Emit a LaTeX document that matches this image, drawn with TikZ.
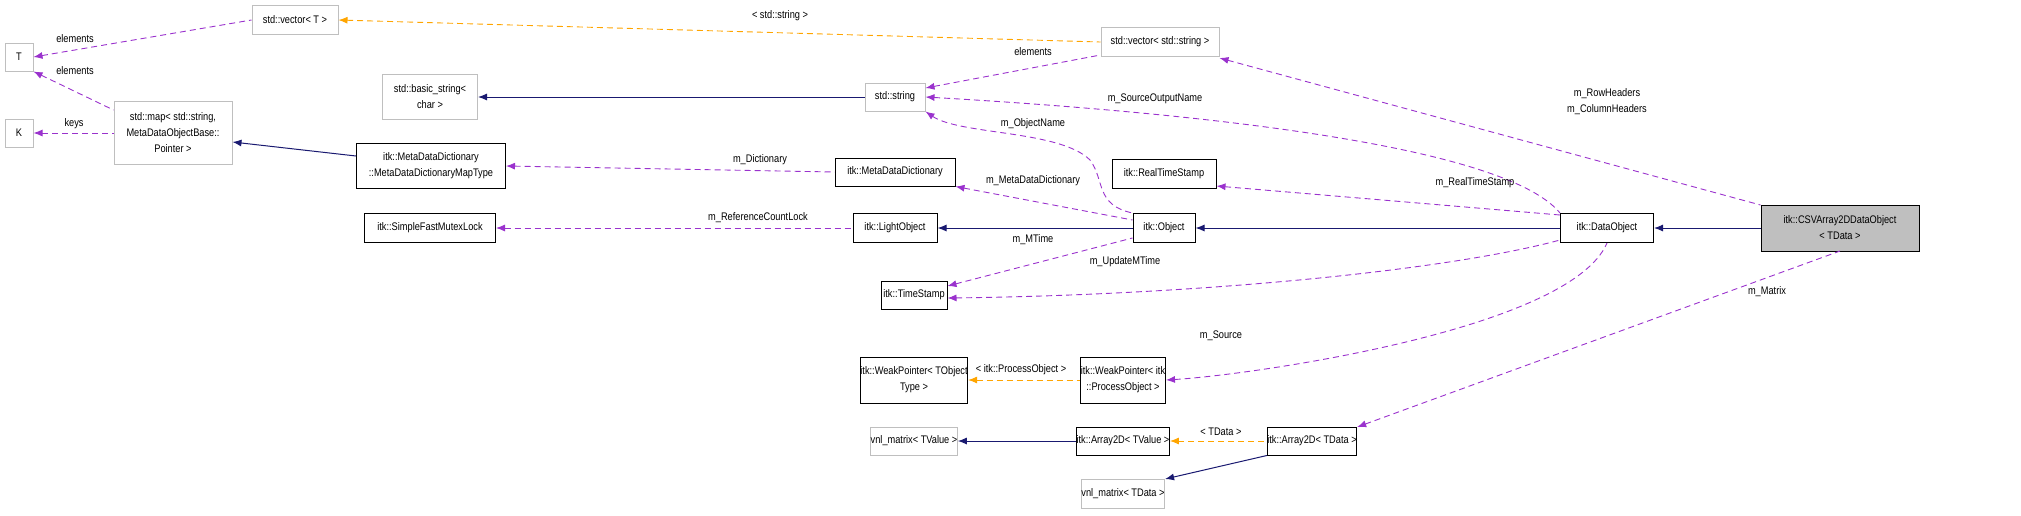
\documentclass[tikz,border=0pt]{standalone}
\usepackage{fontspec}
\setmainfont{Liberation Sans}[FakeStretch=0.84]
\usetikzlibrary{arrows.meta}
\definecolor{pur}{HTML}{9A32CD}
\definecolor{org}{HTML}{FFA500}
\definecolor{nav}{HTML}{191970}
\definecolor{gry}{HTML}{BFBFBF}
\begin{document}
\begin{tikzpicture}[x=1pt,y=-1pt,font=\fontsize{11}{16}\selectfont,
 box/.style={draw=black,line width=1pt,inner sep=0pt,align=center,fill=white},
 ext/.style={draw=gry,line width=1pt,inner sep=0pt,align=center,fill=white},
 mem/.style={draw=pur,dashed,line width=0.9pt,dash pattern=on 6pt off 4pt,{Latex[length=9pt,width=7pt]}-},
 tpl/.style={draw=org,dashed,line width=0.9pt,dash pattern=on 6pt off 4pt,{Latex[length=9pt,width=7pt]}-},
 inh/.style={draw=nav,line width=1pt,{Latex[length=9pt,width=7pt]}-},
 lab/.style={inner sep=1pt,align=center}]
\useasboundingbox (0,0) rectangle (2021,515);
\node[ext,minimum width=28,minimum height=28] (T) at (19,57) {T};
\node[ext,minimum width=28,minimum height=28] (K) at (19,133) {K};
\node[ext,minimum width=86,minimum height=29] (vecT) at (295,20) {std::vector< T >};
\node[ext,minimum width=118,minimum height=63] (map) at (173,133) {std::map< std::string,\\ MetaDataObjectBase::\\Pointer >};
\node[ext,minimum width=95,minimum height=45] (bstr) at (430,97) {std::basic\_string<\\char >};
\node[box,minimum width=149,minimum height=45] (mapt) at (431,166) {itk::MetaDataDictionary\\::MetaDataDictionaryMapType};
\node[box,minimum width=131,minimum height=29] (mutex) at (430,228) {itk::SimpleFastMutexLock};
\node[ext,minimum width=60,minimum height=28] (str) at (895,97) {std::string};
\node[ext,minimum width=118,minimum height=29] (vecS) at (1160,42) {std::vector< std::string >};
\node[box,minimum width=120,minimum height=28] (mdd) at (895,172) {itk::MetaDataDictionary};
\node[box,minimum width=84,minimum height=29] (light) at (895,228) {itk::LightObject};
\node[box,minimum width=66,minimum height=28] (ts) at (914,295) {itk::TimeStamp};
\node[box,minimum width=104,minimum height=29] (rts) at (1164,174) {itk::RealTimeStamp};
\node[box,minimum width=62,minimum height=29] (obj) at (1164,228) {itk::Object};
\node[box,minimum width=93,minimum height=29] (dobj) at (1607,228) {itk::DataObject};
\node[box,fill=gry,minimum width=158,minimum height=46] (csv) at (1840,228) {itk::CSVArray2DDataObject\\< TData >};
\node[box,minimum width=103,minimum height=46] (wpT) at (914,380) {itk::WeakPointer< TObject\\Type >};
\node[box,minimum width=85,minimum height=46] (wpP) at (1123,380) {itk::WeakPointer< itk\\::ProcessObject >};
\node[ext,minimum width=85,minimum height=28] (vnlV) at (914,441) {vnl\_matrix< TValue >};
\node[box,minimum width=91,minimum height=28] (a2V) at (1123,441) {itk::Array2D< TValue >};
\node[box,minimum width=89,minimum height=28] (a2D) at (1312,441) {itk::Array2D< TData >};
\node[ext,minimum width=83,minimum height=29] (vnlD) at (1123,494) {vnl\_matrix< TData >};

\draw[mem] (T.east) -- (vecT.west);
\node[lab] (l1) at (75,39) {elements};
\draw[mem] (T.south east) -- (map.north west |- 0,110) coordinate (mapn);
\node[lab] (l2) at (75,71) {elements};
\draw[mem] (K.east) -- (map.west |- K.east);
\node[lab] (l3) at (74,124) {keys};
\draw[tpl] (vecT.east) -- (vecS.west);
\node[lab] (l4) at (780,16) {< std::string >};
\draw[inh] (map.east |- 0,142) -- (mapt.west |- 0,156);
\draw[inh] (bstr.east) -- (str.west);
\draw[mem] (mapt.east) -- (mdd.west);
\node[lab] (l5) at (760,160) {m\_Dictionary};
\draw[mem] (mutex.east) -- (light.west);
\node[lab] (l6) at (758,218) {m\_ReferenceCountLock};
\draw[mem] (str.east |- 0,88) -- (vecS.south west |- 0,55) coordinate (c1);
\node[lab] (l7) at (1033,52) {elements};
\draw[mem] (str.east) .. controls (1150,110) and (1500,140) .. (dobj.north west |- 0,213) coordinate (c2);
\node[lab] (l8) at (1155,99) {m\_SourceOutputName};
\draw[mem] (str.south east) .. controls (960,135) and (1060,130) .. (1090,160) .. controls (1105,180) and (1095,205) .. (obj.north west);
\node[lab] (l9) at (1033,124) {m\_ObjectName};
\draw[mem] (mdd.south east) -- (obj.west |- 0,220);
\node[lab] (l10) at (1033,181) {m\_MetaDataDictionary};
\draw[inh] (light.east) -- (obj.west);
\draw[mem] (ts.east |- 0,286) -- (obj.west |- 0,238);
\node[lab] (l11) at (1033,240) {m\_MTime};
\draw[mem] (ts.east |- 0,298) .. controls (1200,295) and (1450,270) .. (dobj.west |- 0,240);
\node[lab] (l12) at (1125,262) {m\_UpdateMTime};
\draw[mem] (rts.east |- 0,186) -- (dobj.west |- 0,215);
\node[lab] (l13) at (1475,183) {m\_RealTimeStamp};
\draw[inh] (obj.east) -- (dobj.west);
\draw[inh] (dobj.east) -- (csv.west);
\draw[mem] (vecS.south east |- 0,58) -- (csv.north west |- 0,205);
\node[lab] (l14) at (1607,102) {m\_RowHeaders\\m\_ColumnHeaders};
\draw[mem] (wpP.east) .. controls (1250,375) and (1570,330) .. (dobj.south);
\node[lab] (l15) at (1221,336) {m\_Source};
\draw[tpl] (wpT.east) -- (wpP.west);
\node[lab] (l16) at (1021,370) {< itk::ProcessObject >};
\draw[mem] (a2D.north east |- 0,427) -- (csv.south |- 0,251);
\node[lab] (l17) at (1767,292) {m\_Matrix};
\draw[inh] (vnlV.east) -- (a2V.west);
\draw[tpl] (a2V.east) -- (a2D.west);
\node[lab] (l18) at (1221,432) {< TData >};
\draw[inh] (vnlD.north east) -- (a2D.south west);
\end{tikzpicture}
\end{document}
